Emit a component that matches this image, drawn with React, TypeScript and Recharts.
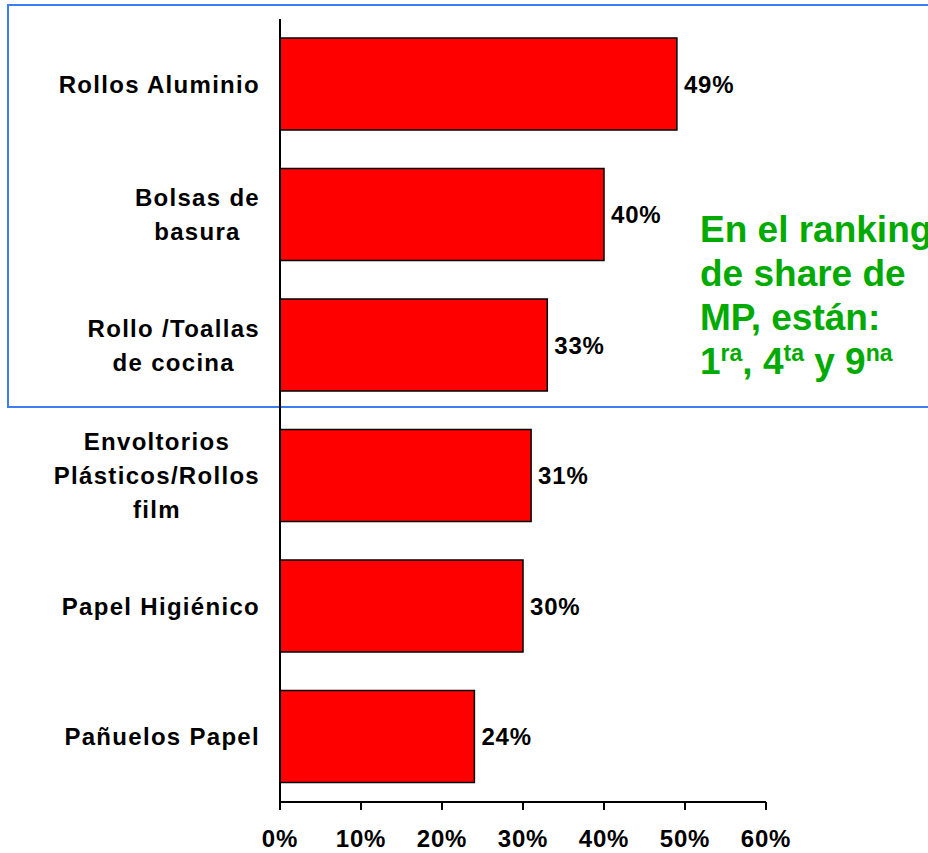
import { Bar, BarChart, LabelList, XAxis, YAxis } from 'recharts';

const CATEGORIES = [
  'Rollos Aluminio',
  'Bolsas de\nbasura',
  'Rollo /Toallas\nde cocina',
  'Envoltorios\nPlásticos/Rollos\nfilm',
  'Papel Higiénico',
  'Pañuelos Papel',
];
const SHARE = [49, 40, 33, 31, 30, 24];
const X_TICKS = [0, 10, 20, 30, 40, 50, 60];

const FONT = '"Liberation Sans", Arial, Helvetica, sans-serif';
const LABEL_SIZE = 24;
const SPACING = 0.8;
const CAT_SPACING = 1.3;
const GREEN = '#00AA00';

const data = CATEGORIES.map((name, i) => ({ name, value: SHARE[i] }));

let ctx: CanvasRenderingContext2D | null = null;
function textWidth(s: string) {
  if (!ctx) {
    ctx = document.createElement('canvas').getContext('2d');
  }
  if (!ctx) return s.length * 13;
  ctx.font = `bold ${LABEL_SIZE}px ${FONT}`;
  return ctx.measureText(s).width + s.length * CAT_SPACING;
}

function CategoryTick({ x, y, payload }: any) {
  const lines: string[] = String(payload.value).split('\n');
  const widest = Math.max(...lines.map(textWidth));
  const cx = x - widest / 2;
  const lineH = 34;
  return (
    <g>
      {lines.map((line, i) => (
        <text
          key={i}
          x={lines.length > 1 ? cx : x}
          y={y + (i - (lines.length - 1) / 2) * lineH}
          dy="0.36em"
          textAnchor={lines.length > 1 ? 'middle' : 'end'}
          fontFamily={FONT}
          fontWeight="bold"
          fontSize={LABEL_SIZE}
          letterSpacing={CAT_SPACING}
          fill="#000"
        >
          {line}
        </text>
      ))}
    </g>
  );
}

const sup = { fontSize: 23, verticalAlign: 'super' as const, lineHeight: 0 };

export default function App() {
  return (
    <div style={{ position: 'absolute', left: 0, top: 0, width: 928, height: 853, overflow: 'hidden', background: '#fff' }}>
      <div
        style={{
          position: 'absolute',
          left: 7,
          top: 4,
          width: 940,
          height: 400,
          border: '2px solid #3D7DF5',
        }}
      />
      <BarChart
        width={928}
        height={853}
        data={data}
        layout="vertical"
        margin={{ top: 19, right: 162, left: 0, bottom: 0 }}
        barSize={92}
        style={{ position: 'absolute', left: 0, top: 0 }}
      >
        <XAxis
          type="number"
          domain={[0, 60]}
          ticks={X_TICKS}
          tickFormatter={(v: number) => `${v}%`}
          height={51}
          axisLine={{ stroke: '#000', strokeWidth: 2 }}
          tickLine={{ stroke: '#000', strokeWidth: 2 }}
          tickSize={8}
          tickMargin={20}
          tick={{ fontFamily: FONT, fontWeight: 'bold', fontSize: LABEL_SIZE, fill: '#000', letterSpacing: SPACING }}
          interval={0}
        />
        <YAxis
          type="category"
          dataKey="name"
          width={280}
          axisLine={{ stroke: '#000', strokeWidth: 2 }}
          tickLine={false}
          tickSize={0}
          tickMargin={20}
          tick={<CategoryTick />}
          interval={0}
        />
        <Bar dataKey="value" fill="#FF0000" stroke="#000" strokeWidth={1.5} isAnimationActive={false}>
          <LabelList
            dataKey="value"
            position="right"
            offset={7}
            formatter={(v: any) => `${v}%`}
            style={{ fontFamily: FONT, fontWeight: 'bold', fontSize: LABEL_SIZE, fill: '#000', letterSpacing: SPACING }}
          />
        </Bar>
      </BarChart>
      <div
        style={{
          position: 'absolute',
          left: 700,
          top: 208,
          width: 260,
          fontFamily: FONT,
          fontWeight: 'bold',
          fontSize: 37,
          lineHeight: '44px',
          color: GREEN,
          whiteSpace: 'nowrap',
        }}
      >
        <div>En el ranking</div>
        <div>de share de</div>
        <div>MP, están:</div>
        <div>
          1<span style={sup}>ra</span>, 4<span style={sup}>ta</span> y 9<span style={sup}>na</span>
        </div>
      </div>
    </div>
  );
}
